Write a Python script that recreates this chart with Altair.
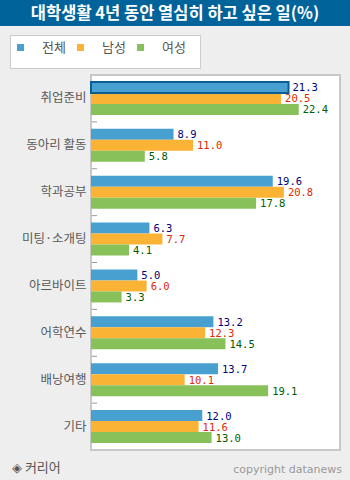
import altair as alt
import pandas as pd

categories = ["취업준비", "동아리 활동", "학과공부", "미팅·소개팅", "아르바이트", "어학연수", "배낭여행", "기타"]
series = ["전체", "남성", "여성"]
total = [21.3, 8.9, 19.6, 6.3, 5.0, 13.2, 13.7, 12.0]
male = [20.5, 11.0, 20.8, 7.7, 6.0, 12.3, 10.1, 11.6]
female = [22.4, 5.8, 17.8, 4.1, 3.3, 14.5, 19.1, 13.0]

bar_colors = ["#48a0d0", "#fbb336", "#88c15a"]
label_colors = ["#00007a", "#e02a00", "#005c00"]

rows = []
for vals, s in zip([total, male, female], series):
    for c, v in zip(categories, vals):
        rows.append({"cat": c, "series": s, "value": v})
df = pd.DataFrame(rows)

W, H = 249, 375
KFONT = "Noto Sans CJK KR"

y_enc = alt.Y("cat:N", sort=categories, title=None,
              scale=alt.Scale(paddingInner=0, paddingOuter=0),
              axis=alt.Axis(labelFontSize=12.5, labelColor="#5a5a5a", labelFont=KFONT,
                            domain=False, ticks=False, labelPadding=5))
yoff = alt.YOffset("series:N", sort=series, scale=alt.Scale(paddingInner=0, paddingOuter=0.63))
x_enc = alt.X("value:Q", scale=alt.Scale(domain=[0, 26.85], nice=False, zero=True), axis=None)

base = alt.Chart(df)
bars = base.mark_bar().encode(
    y=y_enc, yOffset=yoff, x=x_enc,
    color=alt.Color("series:N", sort=series, scale=alt.Scale(domain=series, range=bar_colors), legend=None),
)
hl = base.transform_filter(
    (alt.datum.cat == categories[0]) & (alt.datum.series == series[0])
).mark_bar(fill=bar_colors[0], stroke="#0a5e93", strokeWidth=2).encode(
    y=alt.Y("cat:N", sort=categories), yOffset=yoff, x=x_enc)

labels = base.mark_text(align="left", baseline="middle", dx=4, dy=1,
                        font="DejaVu Sans Mono", fontSize=10.5).encode(
    y=alt.Y("cat:N", sort=categories), yOffset=yoff, x=x_enc,
    text=alt.Text("value:Q", format=".1f"),
    color=alt.Color("series:N", sort=series, scale=alt.Scale(domain=series, range=label_colors), legend=None),
)

tick_df = pd.DataFrame({"cat": categories[1:]})
ticks = alt.Chart(tick_df).mark_rule(color="#999999", strokeWidth=1).encode(
    y=alt.Y("cat:N", sort=categories, bandPosition=0),
    x=alt.value(1), x2=alt.value(6))

one = pd.DataFrame({"a": [0]})
deco = []
# title bar
deco.append(alt.Chart(one).mark_rect(color="#00639a").encode(
    x=alt.value(-91), x2=alt.value(259), y=alt.value(-75), y2=alt.value(-49)))
deco.append(alt.Chart(one).mark_text(color="white", fontSize=16.5, font=KFONT, fontWeight="bold",
                                     align="center", baseline="alphabetic").encode(
    x=alt.value(84), y=alt.value(-56), text=alt.value("대학생활 4년 동안 열심히 하고 싶은 일(%)")))
# legend box
deco.append(alt.Chart(one).mark_rect(fill="white", stroke="#cccccc", strokeWidth=1).encode(
    x=alt.value(-80.5), x2=alt.value(109.5), y=alt.value(-39.5), y2=alt.value(-6.5)))
for i, s in enumerate(series):
    x0 = -74 + 60 * i
    deco.append(alt.Chart(one).mark_rect(color=bar_colors[i]).encode(
        x=alt.value(x0), x2=alt.value(x0 + 7), y=alt.value(-31), y2=alt.value(-24)))
    deco.append(alt.Chart(one).mark_text(color="#555555", fontSize=13, font=KFONT,
                                         align="left", baseline="middle").encode(
        x=alt.value(x0 + 25), y=alt.value(-27), text=alt.value(s)))
# footer
deco.append(alt.Chart(one).mark_text(color="#555555", fontSize=13, font=KFONT,
                                     align="left", baseline="middle").encode(
    x=alt.value(-79), y=alt.value(H + 18), text=alt.value("◈ 커리어")))
deco.append(alt.Chart(one).mark_text(color="#999999", fontSize=11, font="DejaVu Sans",
                                     align="right", baseline="middle").encode(
    x=alt.value(251), y=alt.value(H + 20), text=alt.value("copyright datanews")))

chart = alt.layer(bars, hl, labels, ticks, *deco).resolve_scale(color="independent").properties(
    width=W, height=H,
    autosize=alt.AutoSizeParams(type="none"),
    padding={"left": 91, "top": 75, "right": 10, "bottom": 30},
    background="#eeeeee",
).configure_view(fill="white", stroke="#c8c8c8", strokeWidth=2)

chart.save("out.html", embed_options={"renderer": "svg", "actions": False})
